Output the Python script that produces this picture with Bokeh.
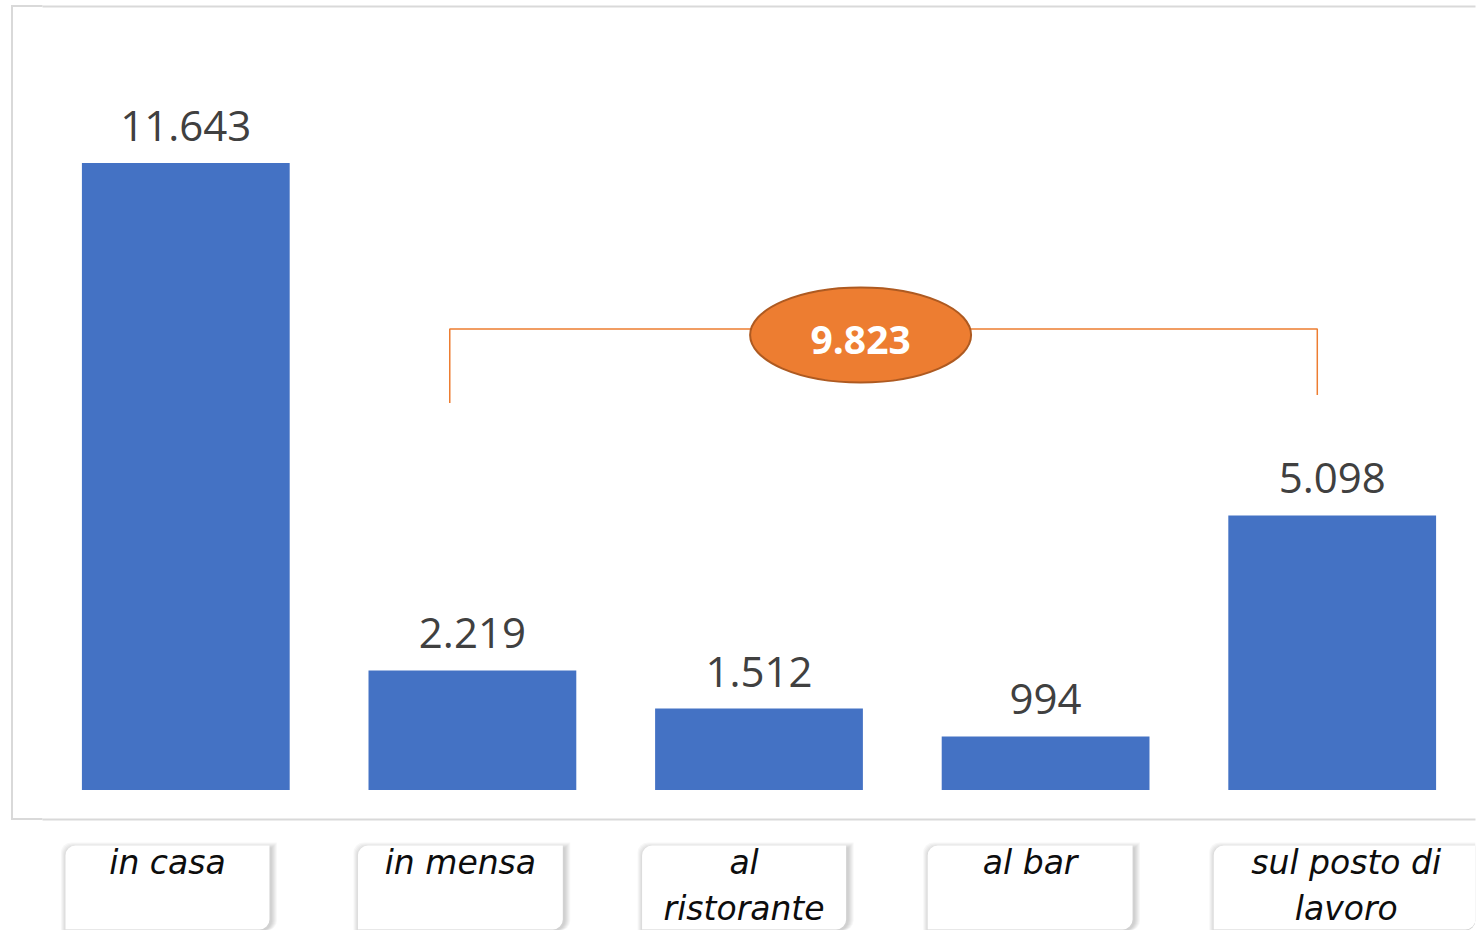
from bokeh.plotting import figure
from bokeh.models import Range1d, FactorRange, BoxAnnotation, ColumnDataSource
from bokeh.core.properties import value
from bokeh.embed import file_html
from bokeh.resources import INLINE

# ---------------- data ----------------
categories = ["in casa", "in mensa", "al ristorante", "al bar", "sul posto di lavoro"]
values = [11643, 2219, 1512, 994, 5098]
label_lines = ["in casa", "in mensa", "al\nristorante", "al bar", "sul posto di\nlavoro"]


def fmt(v):
    return f"{v:,}".replace(",", ".")


value_labels = [fmt(v) for v in values]
out_of_home = sum(values[1:])          # 9.823 = everything outside the home

# ---------------- style constants ----------------
BAR = "#4472C4"
ORANGE = "#ED7D31"
ORANGE_DARK = "#AE5A21"
FRAME = "#D9D9D9"
PX = 1 / 286.6                           # one screen pixel in category units
PY = 1 / 0.053852                        # one screen pixel in value units
box_dx = [-0.064, -0.042, -0.052, -0.054, 0.049]
box_w = [0.712, 0.715, 0.712, 0.715, 0.925]
BOX_TOP, BOX_BOTTOM = -1030, -2590
RADIUS = (10, 0, 10, 0)
FRAME_LEFT, FRAME_TOP, FRAME_BOTTOM = -0.1036, 14549, -548

# part of the grey chart-area frame that lies left of the category range
# (painted behind the transparent canvas border)
frame_css = {
    "background-image": ", ".join([f"linear-gradient({FRAME}, {FRAME})"] * 3),
    "background-size": "2px 815px, 32px 2px, 32px 2px",
    "background-position": "11px 5px, 11px 5px, 11px 818px",
    "background-repeat": "no-repeat",
}

W, H = 1483, 930
p = figure(width=W, height=H,
           x_range=FactorRange(factors=categories, range_padding=0),
           y_range=Range1d(-2609, 14660),
           output_backend="svg", toolbar_location=None,
           x_axis_location=None, y_axis_location=None,
           min_border_left=42, min_border_right=8,
           min_border_top=0, min_border_bottom=0,
           styles=frame_css)
p.grid.visible = False
p.outline_line_color = None
p.background_fill_color = "white"
p.border_fill_color = None

# light grey chart-area frame (extends past the right edge like the original)
p.add_layout(BoxAnnotation(left=FRAME_LEFT, right=len(categories) + 1,
                           top=FRAME_TOP, bottom=FRAME_BOTTOM,
                           fill_color=None, line_color=FRAME, line_alpha=1.0,
                           line_width=2))

# bars
src = ColumnDataSource(dict(cat=categories, val=values, lab=value_labels))
p.vbar(x="cat", top="val", bottom=0, width=0.725, source=src,
       fill_color=BAR, line_color=None)
p.text(x="cat", y="val", text="lab", source=src, text_align="center",
       text_baseline="alphabetic", y_offset=-37,
       text_font=value("Open Sans"), text_font_size="42px", text_color="#404040")

# bracket over the out-of-home categories
pos = {c: i + 0.5 for i, c in enumerate(categories)}
xl = pos[categories[1]] - 0.079
xr = pos[categories[-1]] - 0.052
p.line(x=[xl, xl, xr, xr], y=[7186, 8560, 8560, 7335],
       line_color=ORANGE, line_width=1.5)
xc = (xl + xr) / 2 - 0.08
p.ellipse(x=[xc], y=[8449], width=0.771, height=1764,
          fill_color=ORANGE, line_color=ORANGE_DARK, line_width=2)
p.text(x=[xc], y=[8356], text=[fmt(out_of_home)], text_align="center",
       text_baseline="alphabetic", text_font=value("Open Sans"),
       text_font_style="bold", text_font_size="39px", text_color="white")

# category label boxes with soft shadow
box_x = [pos[c] + d for c, d in zip(categories, box_dx)]
for k in range(1, 7):
    p.vbar(x=[x + 1.5 * PX for x in box_x], width=[w + 2 * k * PX for w in box_w],
           top=BOX_TOP + (k - 3) * PY, bottom=BOX_BOTTOM - k * PY,
           fill_color="black", fill_alpha=0.03, line_color=None,
           border_radius=RADIUS)
p.vbar(x=box_x, width=box_w, top=BOX_TOP, bottom=BOX_BOTTOM,
       fill_color="white", line_color=None, border_radius=RADIUS)
p.text(x=box_x, y=[-975] * len(categories), text=label_lines,
       text_align="center", text_baseline="top",
       text_font=value("DejaVu Sans"), text_font_style="italic",
       text_font_size="33px", text_line_height=1.2, text_color="#0D0D0D")

open("out.html", "w").write(file_html(p, INLINE))
